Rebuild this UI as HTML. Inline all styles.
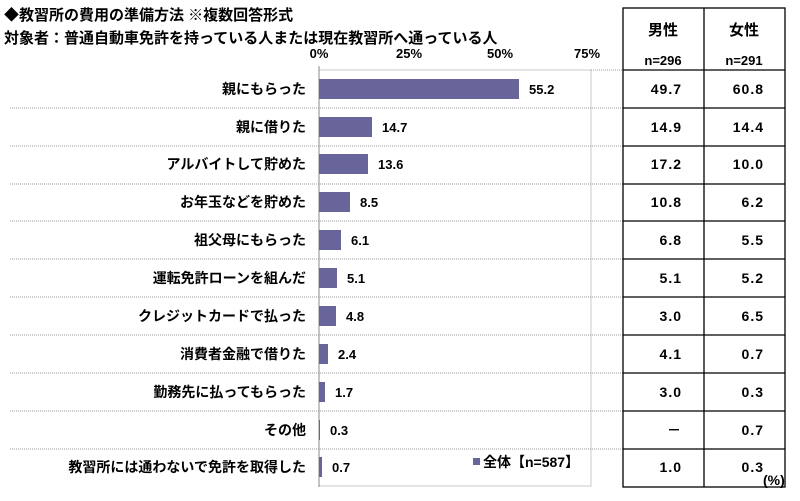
<!DOCTYPE html><html><head><meta charset="utf-8"><style>
body{margin:0;width:800px;height:496px;background:#fff;overflow:hidden}
svg text{font-family:"Liberation Sans","Noto Sans CJK JP",sans-serif;font-weight:bold;fill:#000}
</style></head><body>
<svg width="800" height="496" xmlns="http://www.w3.org/2000/svg">
<text x="4" y="20" font-size="15">◆教習所の費用の準備方法 ※複数回答形式</text>
<text x="4" y="43" font-size="15">対象者：普通自動車免許を持っている人または現在教習所へ通っている人</text>
<g font-size="13" text-anchor="middle">
<text x="319" y="58">0%</text><text x="409" y="58">25%</text><text x="500" y="58">50%</text><text x="587" y="58">75%</text></g>
<rect x="319" y="70" width="272" height="416" fill="none" stroke="#c8c8c8"/>
<line x1="319" y1="66" x2="319" y2="487" stroke="#888"/>
<g stroke="#999" stroke-dasharray="1,1">
<line x1="10" y1="108" x2="623" y2="108"/><line x1="10" y1="146" x2="623" y2="146"/><line x1="10" y1="184" x2="623" y2="184"/><line x1="10" y1="221" x2="623" y2="221"/><line x1="10" y1="259" x2="623" y2="259"/><line x1="10" y1="297" x2="623" y2="297"/><line x1="10" y1="335" x2="623" y2="335"/><line x1="10" y1="373" x2="623" y2="373"/><line x1="10" y1="411" x2="623" y2="411"/><line x1="10" y1="449" x2="623" y2="449"/><line x1="591" y1="70" x2="623" y2="70"/></g>
<g fill="#67659a">
<rect x="319" y="79" width="200" height="20"/><rect x="319" y="117" width="53" height="20"/><rect x="319" y="154" width="49" height="20"/><rect x="319" y="192" width="31" height="20"/><rect x="319" y="230" width="22" height="20"/><rect x="319" y="268" width="18" height="20"/><rect x="319" y="306" width="17" height="20"/><rect x="319" y="344" width="9" height="20"/><rect x="319" y="382" width="6" height="20"/><rect x="319" y="420" width="1" height="20"/><rect x="319" y="457" width="3" height="20"/></g>
<g font-size="14" text-anchor="end">
<text x="306" y="94">親にもらった</text><text x="306" y="132">親に借りた</text><text x="306" y="169">アルバイトして貯めた</text><text x="306" y="207">お年玉などを貯めた</text><text x="306" y="245">祖父母にもらった</text><text x="306" y="283">運転免許ローンを組んだ</text><text x="306" y="321">クレジットカードで払った</text><text x="306" y="359">消費者金融で借りた</text><text x="306" y="397">勤務先に払ってもらった</text><text x="306" y="435">その他</text><text x="306" y="472">教習所には通わないで免許を取得した</text></g>
<g font-size="13">
<text x="529" y="94">55.2</text><text x="382" y="132">14.7</text><text x="378" y="169">13.6</text><text x="360" y="207">8.5</text><text x="351" y="245">6.1</text><text x="347" y="283">5.1</text><text x="346" y="321">4.8</text><text x="338" y="359">2.4</text><text x="335" y="397">1.7</text><text x="330" y="435">0.3</text><text x="332" y="472">0.7</text>
<rect x="473" y="458" width="7" height="7" fill="#67659a"/><text x="483" y="467" font-size="14">全体【n=587】</text></g>
<g fill="none" stroke="#000" stroke-width="1.3">
<rect x="623" y="8" width="162" height="479"/><line x1="704" y1="8" x2="704" y2="487"/>
<line x1="623" y1="70" x2="785" y2="70"/><line x1="623" y1="108" x2="785" y2="108"/><line x1="623" y1="146" x2="785" y2="146"/><line x1="623" y1="184" x2="785" y2="184"/><line x1="623" y1="221" x2="785" y2="221"/><line x1="623" y1="259" x2="785" y2="259"/><line x1="623" y1="297" x2="785" y2="297"/><line x1="623" y1="335" x2="785" y2="335"/><line x1="623" y1="373" x2="785" y2="373"/><line x1="623" y1="411" x2="785" y2="411"/><line x1="623" y1="449" x2="785" y2="449"/></g>
<g font-size="15" text-anchor="middle"><text x="663" y="35">男性</text><text x="744" y="35">女性</text><text x="663" y="65" font-size="13">n=296</text><text x="744" y="65" font-size="13">n=291</text></g>
<g font-size="14" text-anchor="end" letter-spacing="1">
<text x="682" y="94">49.7</text><text x="764" y="94">60.8</text>
<text x="682" y="132">14.9</text><text x="764" y="132">14.4</text>
<text x="682" y="169">17.2</text><text x="764" y="169">10.0</text>
<text x="682" y="207">10.8</text><text x="764" y="207">6.2</text>
<text x="682" y="245">6.8</text><text x="764" y="245">5.5</text>
<text x="682" y="283">5.1</text><text x="764" y="283">5.2</text>
<text x="682" y="321">3.0</text><text x="764" y="321">6.5</text>
<text x="682" y="359">4.1</text><text x="764" y="359">0.7</text>
<text x="682" y="397">3.0</text><text x="764" y="397">0.3</text>
<text x="682" y="435">－</text><text x="764" y="435">0.7</text>
<text x="682" y="472">1.0</text><text x="764" y="472">0.3</text></g>
<text x="763" y="485" font-size="14">(%)</text>
</svg></body></html>
